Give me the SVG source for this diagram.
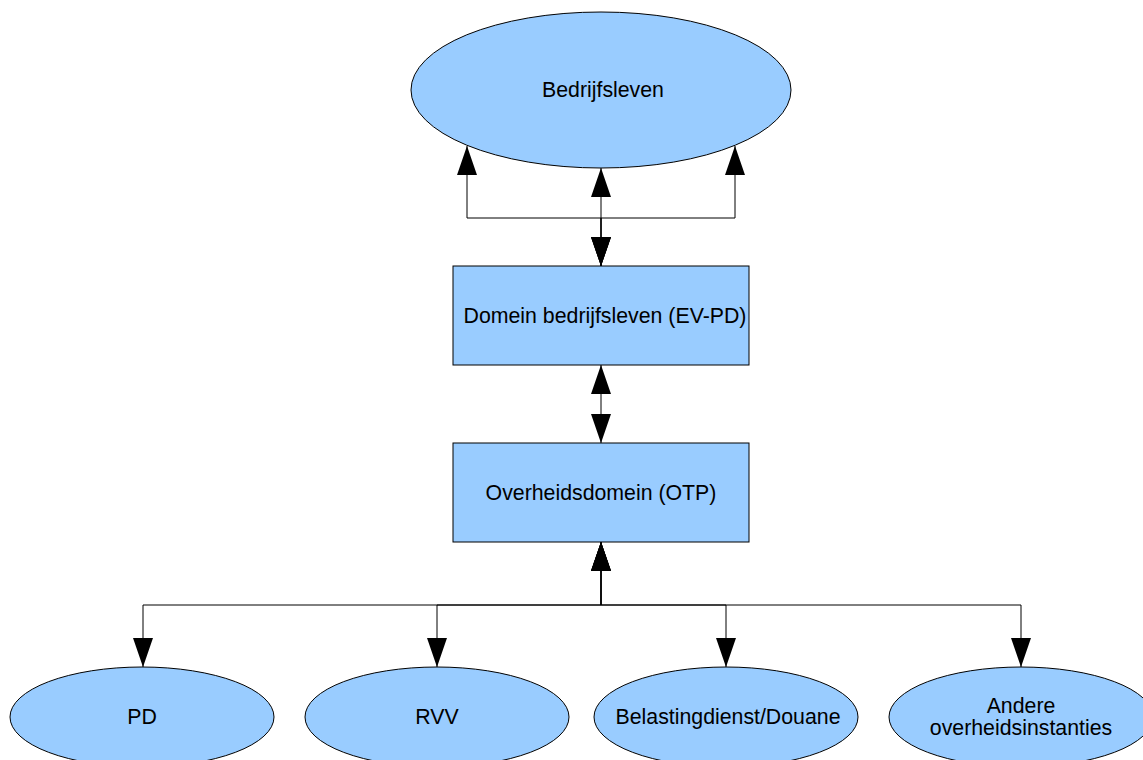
<svg xmlns="http://www.w3.org/2000/svg" width="1143" height="760" viewBox="0 0 1143 760">
<style>
.node{fill:#99ccff;stroke:#000;stroke-width:1}
.lbl{font-family:"Liberation Sans",Arial,sans-serif;font-size:21.3px;fill:#000;text-anchor:middle;dominant-baseline:central}
.con{fill:none;stroke:#000;stroke-width:1;marker-start:url(#arr);marker-end:url(#arr)}
</style>
<defs>
<marker id="arr" viewBox="0 0 29 20" refX="29" refY="10" markerWidth="29" markerHeight="20" markerUnits="userSpaceOnUse" orient="auto-start-reverse">
<path d="M0,0 L29,10 L0,20 z" fill="#000"/>
</marker>
</defs>
<rect width="1143" height="760" fill="#fff"/>
<g id="bedrijfsleven">
<ellipse class="node" cx="601" cy="90" rx="190" ry="78"/>
<text class="lbl" x="603" y="90">Bedrijfsleven</text>
</g>
<g id="domein">
<rect class="node" x="453" y="266" width="296" height="99"/>
<text class="lbl" x="605" y="316">Domein bedrijfsleven (EV-PD)</text>
</g>
<g id="overheid">
<rect class="node" x="453" y="443" width="296" height="99"/>
<text class="lbl" x="601" y="493">Overheidsdomein (OTP)</text>
</g>
<g id="pd">
<ellipse class="node" cx="142" cy="717" rx="132" ry="50"/>
<text class="lbl" x="142" y="717">PD</text>
</g>
<g id="rvv">
<ellipse class="node" cx="437" cy="717" rx="132" ry="50"/>
<text class="lbl" x="437" y="717">RVV</text>
</g>
<g id="belasting">
<ellipse class="node" cx="726" cy="717" rx="132" ry="50"/>
<text class="lbl" x="728" y="717">Belastingdienst/Douane</text>
</g>
<g id="andere">
<ellipse class="node" cx="1021" cy="717" rx="132" ry="50"/>
<text class="lbl" x="1021" y="706">Andere</text>
<text class="lbl" x="1021" y="728">overheidsinstanties</text>
</g>
<g id="connectors">
<path class="con" d="M601,266 L601,218 L467,218 L467,146"/>
<path class="con" d="M601,266 L601,168"/>
<path class="con" d="M601,266 L601,218 L735,218 L735,146"/>
<path class="con" d="M601,365 L601,443"/>
<path class="con" d="M601,542 L601,605 L143,605 L143,667"/>
<path class="con" d="M601,542 L601,605 L437,605 L437,667"/>
<path class="con" d="M601,542 L601,605 L726,605 L726,667"/>
<path class="con" d="M601,542 L601,605 L1021,605 L1021,667"/>
</g>
</svg>
